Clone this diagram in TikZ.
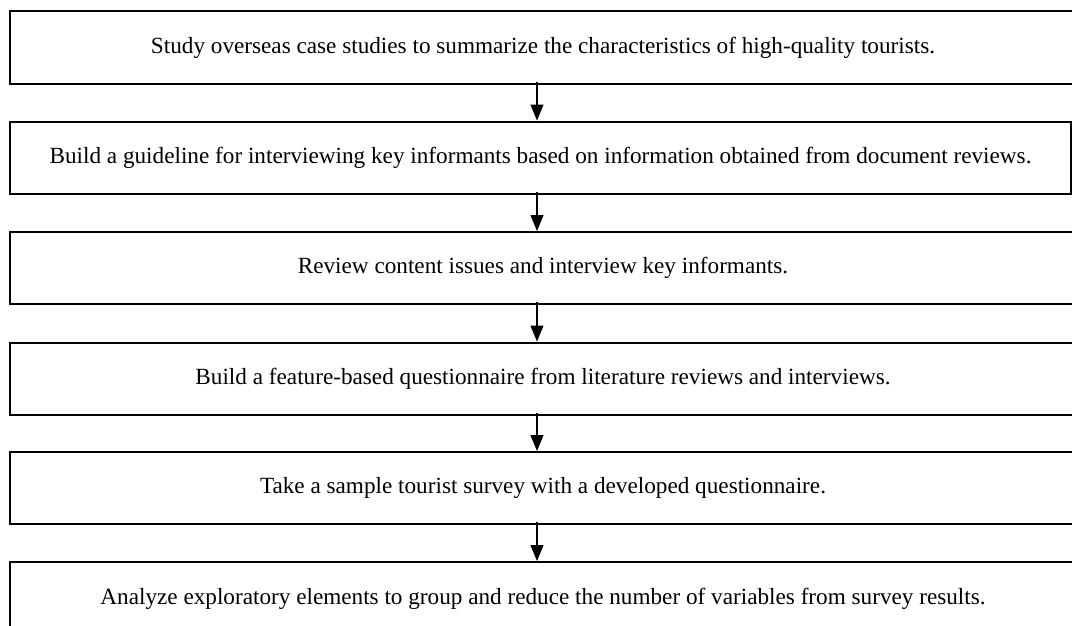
\documentclass[tikz,border=0pt]{standalone}
\usepackage{fontspec}
\setmainfont{Liberation Serif}
\usetikzlibrary{arrows.meta}
\begin{document}
\begin{tikzpicture}[x=1pt,y=-1pt,
  stepbox/.style={draw=black, line width=2pt, rectangle, inner sep=0pt,
    minimum width=1066pt, minimum height=73pt, font=\fontsize{23.2}{26}\selectfont},
  flow/.style={line width=1.1pt, -{Triangle[length=16pt,width=13pt]}}]
\useasboundingbox (0,0) rectangle (1072,625);
\clip (0,0) rectangle (1072,625);
\fill[white] (0,0) rectangle (1072,625);
\coordinate (ax) at (537,0);
\node[stepbox] (s1) at (543,47.5) {Study overseas case studies to summarize the characteristics of high-quality tourists.};
\node[stepbox, minimum width=1061pt, minimum height=72.5pt] (s2) at (540.5,157.75) {Build a guideline for interviewing key informants based on information obtained from document reviews.};
\node[stepbox, minimum height=72pt] (s3) at (543,268) {Review content issues and interview key informants.};
\node[stepbox, minimum height=72.5pt] (s4) at (543,378.75) {Build a feature-based questionnaire from literature reviews and interviews.};
\node[stepbox, minimum height=72pt] (s5) at (543,488) {Take a sample tourist survey with a developed questionnaire.};
\node[stepbox] (s6) at (543,598.5) {Analyze exploratory elements to group and reduce the number of variables from survey results.};
\foreach \a/\b in {s1/s2,s2/s3,s3/s4,s4/s5,s5/s6}
  \draw[flow] ([yshift=3pt]\a.south -| ax) -- (\b.north -| ax);
\end{tikzpicture}
\end{document}
